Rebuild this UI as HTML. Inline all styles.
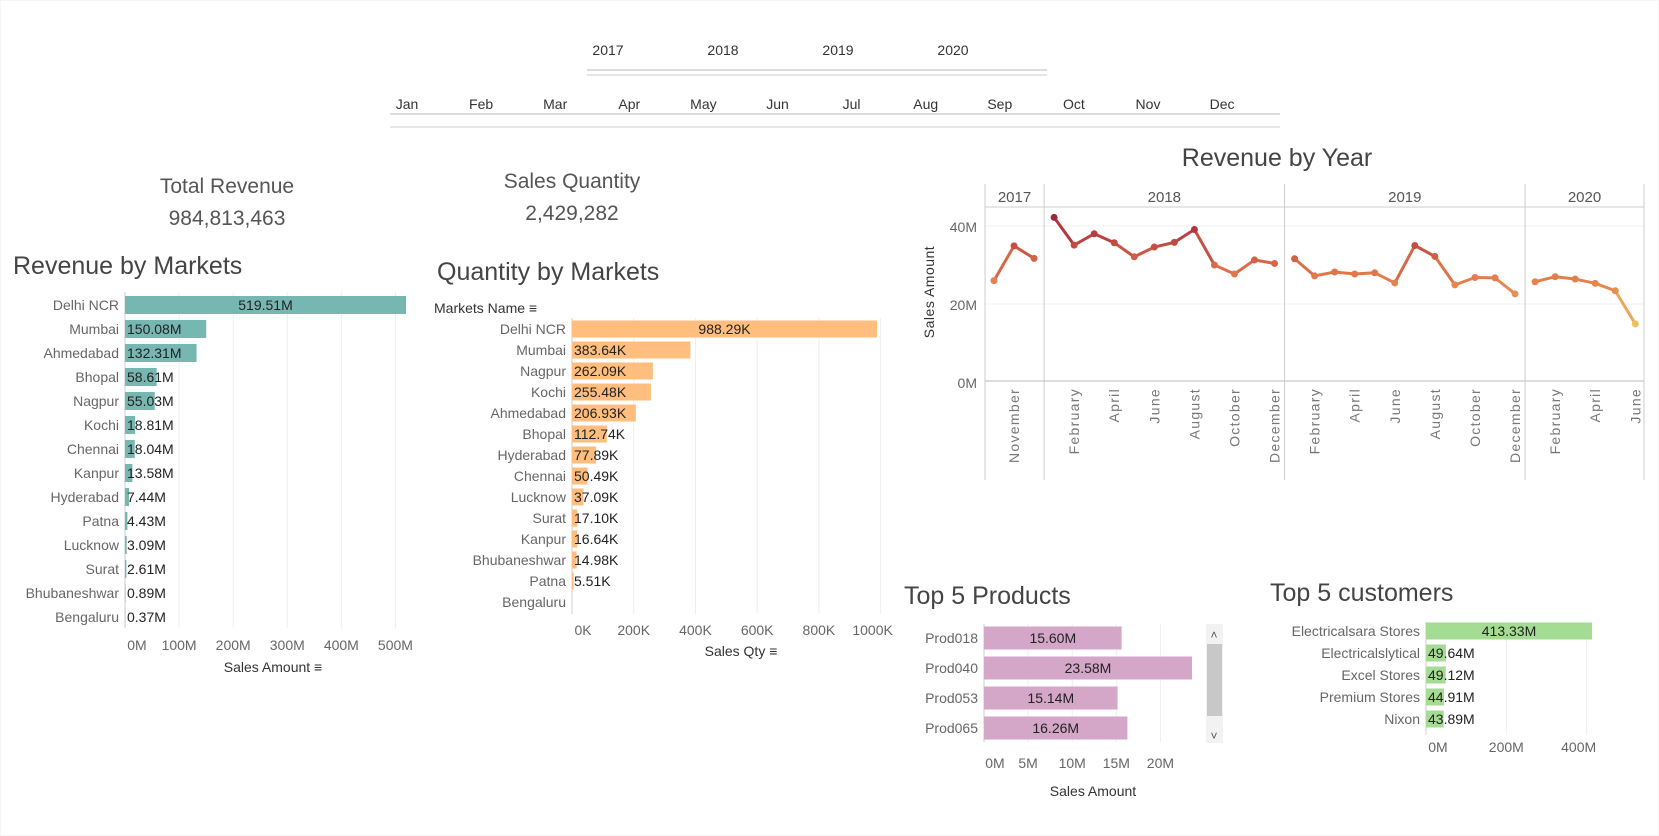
<!DOCTYPE html>
<html><head><meta charset="utf-8"><style>
body{margin:0;background:#fff;}
svg{display:block;font-family:"Liberation Sans",sans-serif;}
.lab{font-size:14px;fill:#666;}
.val{font-size:14px;fill:#222;}
.tick{font-size:14px;fill:#666;}
.ttl{font-size:25px;fill:#444;}
</style></head><body>
<svg id="dash" width="1659" height="836" viewBox="0 0 1659 836">
<rect x="0" y="0" width="1659" height="836" fill="#fff" stroke="#eee"/>
<g id="filters"></g>
<g>
<text x="227" y="193" text-anchor="middle" font-size="21" fill="#555">Total Revenue</text>
<text x="227" y="225" text-anchor="middle" font-size="21" fill="#555">984,813,463</text>
</g>
<g>
<text x="572" y="188" text-anchor="middle" font-size="21" fill="#555">Sales Quantity</text>
<text x="572" y="220" text-anchor="middle" font-size="21" fill="#555">2,429,282</text>
</g>
<text x="13" y="274" class="ttl">Revenue by Markets</text>
<text x="437" y="280" class="ttl">Quantity by Markets</text>
<text x="434" y="313" font-size="14" fill="#333">Markets Name ≡</text>
<text x="1277" y="166" text-anchor="middle" class="ttl">Revenue by Year</text>
<text x="904" y="604" class="ttl">Top 5 Products</text>
<text x="1270" y="601" class="ttl">Top 5 customers</text>
<g id="rev"></g>
<g id="qty"></g>
<g id="line"></g>
<g id="prod"></g>
<g id="cust"></g>
<g>
<rect x="1206" y="624" width="17" height="119" fill="#f2f2f2"/>
<rect x="1207" y="644" width="15" height="72" fill="#c8c8c8"/>
<text x="1214" y="639" text-anchor="middle" font-size="12" fill="#555">˄</text>
<text x="1214" y="740" text-anchor="middle" font-size="12" fill="#555">˅</text>
</g>
</svg>
<script>
const NS="http://www.w3.org/2000/svg";
const years=["2017","2018","2019","2020"];
const monthsShort=["Jan","Feb","Mar","Apr","May","Jun","Jul","Aug","Sep","Oct","Nov","Dec"];
const revMarkets=["Delhi NCR","Mumbai","Ahmedabad","Bhopal","Nagpur","Kochi","Chennai","Kanpur","Hyderabad","Patna","Lucknow","Surat","Bhubaneshwar","Bengaluru"];
const revValues=[519.51,150.08,132.31,58.61,55.03,18.81,18.04,13.58,7.44,4.43,3.09,2.61,0.89,0.37];
const revTicks=[0,100,200,300,400,500];
const qtyMarkets=["Delhi NCR","Mumbai","Nagpur","Kochi","Ahmedabad","Bhopal","Hyderabad","Chennai","Lucknow","Surat","Kanpur","Bhubaneshwar","Patna","Bengaluru"];
const qtyValues=[988.29,383.64,262.09,255.48,206.93,112.74,77.89,50.49,37.09,17.10,16.64,14.98,5.51,0];
const qtyTicks=[0,200,400,600,800,1000];
const lineMonths=["2017-10","2017-11","2017-12","2018-01","2018-02","2018-03","2018-04","2018-05","2018-06","2018-07","2018-08","2018-09","2018-10","2018-11","2018-12","2019-01","2019-02","2019-03","2019-04","2019-05","2019-06","2019-07","2019-08","2019-09","2019-10","2019-11","2019-12","2020-01","2020-02","2020-03","2020-04","2020-05","2020-06"];
const lineValues=[26.0,34.9,31.7,42.2,35.1,38.0,35.7,32.1,34.6,35.8,39.1,30.0,27.7,31.3,30.4,31.6,27.2,28.2,27.7,28.0,25.4,35.0,32.2,24.9,26.8,26.7,22.6,25.7,27.0,26.4,25.3,23.4,14.9];
const lineTicks=[0,20,40];
const prodNames=["Prod018","Prod040","Prod053","Prod065"];
const prodValues=[15.60,23.58,15.14,16.26];
const prodTicks=[0,5,10,15,20];
const custNames=["Electricalsara Stores","Electricalslytical","Excel Stores","Premium Stores","Nixon"];
const custValues=[413.33,49.64,49.12,44.91,43.89];
const custTicks=[0,200,400];

function mk(parent,tag,attrs,text){const e=document.createElementNS(NS,tag);for(const k in attrs)e.setAttribute(k,attrs[k]);if(text!==undefined)e.textContent=text;parent.appendChild(e);return e;}

const F=document.getElementById('filters');
years.forEach((y,i)=>{const t=mk(F,'text',{x:608+i*115,y:55,'text-anchor':'middle','font-size':14,fill:'#333'},y);

});
mk(F,'line',{x1:587,x2:1047,y1:70,y2:70,stroke:'#bbb'});
mk(F,'line',{x1:587,x2:1047,y1:75,y2:75,stroke:'#ccc'});
monthsShort.forEach((m,i)=>{const t=mk(F,'text',{x:407+i*74.1,y:109,'text-anchor':'middle','font-size':14,fill:'#333'},m);

});
mk(F,'line',{x1:390,x2:1280,y1:114,y2:114,stroke:'#bbb'});
mk(F,'line',{x1:390,x2:1280,y1:127,y2:127,stroke:'#ccc'});

function hbar(gid,cats,vals,ticks,o){
  const g=document.getElementById(gid);
  const xs=v=>o.x0+v*o.k;
  ticks.forEach(t=>{mk(g,'line',{x1:xs(t),x2:xs(t),y1:o.top,y2:o.bottom,stroke:'#eee'});
    const tl=mk(g,'text',{x:xs(t)+(o.tickShift?o.tickShift(t):0),y:o.tickY,'text-anchor':'middle',class:'tick'},t+o.unit);
    
    });
  mk(g,'line',{x1:o.x0,x2:o.x0,y1:o.top,y2:o.bottom,stroke:'#ccc'});
  const mx=Math.max(...vals);
  cats.forEach((c,i)=>{const y=o.y0+i*o.step;
    const l=mk(g,'text',{x:o.x0-6,y:y+5,'text-anchor':'end',class:'lab'},c);
    
    
    const r=mk(g,'rect',{x:o.x0,y:y-o.h/2,width:Math.max(0,vals[i]*o.k),height:o.h,fill:o.color});
    
    
    if(vals[i]>0){const center=o.center||vals[i]===mx;
      const vt=mk(g,'text',{x:center?o.x0+vals[i]*o.k/2:o.x0+2,y:y+5,'text-anchor':center?'middle':'start',class:'val'},vals[i].toFixed(2)+o.suffix);
      
      }
  });
  if(o.axisTitle){const a=mk(g,'text',{x:o.axisX,y:o.axisY,'text-anchor':'middle','font-size':14,fill:'#333'},o.axisTitle);
    
    }
}
hbar('rev',revMarkets,revValues,revTicks,{x0:125,k:281/519.51,y0:305,step:24,h:18,color:'#76b7b2',top:292,bottom:628,tickY:650,unit:'M',suffix:'M',axisTitle:'Sales Amount ≡',axisX:273,axisY:672,tickShift:t=>t===0?12:0});
hbar('qty',qtyMarkets,qtyValues,qtyTicks,{x0:572,k:305/988.29,y0:329,step:21,h:17,color:'#ffbe7d',top:318,bottom:614,tickY:635,unit:'K',suffix:'K',axisTitle:'Sales Qty ≡',axisX:741,axisY:656,tickShift:t=>t===0?11:(t===1000?-8:0)});
hbar('prod',prodNames,prodValues,prodTicks,{x0:984,k:208/23.58,y0:638,step:30,h:23,color:'#d4a6c8',top:624,bottom:742,tickY:768,unit:'M',suffix:'M',center:true,axisTitle:'Sales Amount',axisX:1093,axisY:796,tickShift:t=>t===0?11:0});
hbar('cust',custNames,custValues,custTicks,{x0:1426,k:166/413.33,y0:631,step:22,h:17,color:'#a5dc93',top:622,bottom:735,tickY:752,unit:'M',suffix:'M',tickShift:t=>t===0?12:(t===400?-8:0)});

(function(){
  const g=document.getElementById('line');
  const L=985,R=1644,T=184,HB=207,B=381,AB=480;
  const ys=v=>382-v*3.9;
  const xi=i=>994+i*20.04;
  mk(g,'line',{x1:L,x2:R,y1:HB,y2:HB,stroke:'#ccc'});
  mk(g,'line',{x1:L,x2:R,y1:B,y2:B,stroke:'#bbb'});
  lineTicks.forEach(t=>{if(t>0)mk(g,'line',{x1:L,x2:R,y1:ys(t),y2:ys(t),stroke:'#f0f0f0'});
    const tl=mk(g,'text',{x:977,y:ys(t)+6,'text-anchor':'end',class:'tick'},t+'M');
    
    });
  const yl=mk(g,'text',{x:0,y:0,'text-anchor':'middle','font-size':14,fill:'#333','letter-spacing':'0.5',transform:'translate(934,292) rotate(-90)'},'Sales Amount');
  
  
  years.forEach((y,yi)=>{const idx=lineMonths.map((m,i)=>m.startsWith(y)?i:-1).filter(i=>i>=0);
    const x0=yi===0?L:xi(idx[0])-10,x1=yi===years.length-1?R:xi(idx[idx.length-1])+10;
    mk(g,'line',{x1:x0,x2:x0,y1:T,y2:AB,stroke:'#ccc'});
    const h=mk(g,'text',{x:(x0+x1)/2,y:202,'text-anchor':'middle','font-size':15,fill:'#555'},y);
    
    });
  mk(g,'line',{x1:R,x2:R,y1:T,y2:AB,stroke:'#ccc'});
  const full=["January","February","March","April","May","June","July","August","September","October","November","December"];
  lineMonths.forEach((m,i)=>{const mo=+m.slice(5);
    if((m.startsWith('2017')&&mo===11)||(!m.startsWith('2017')&&mo%2===0)){
      const t=mk(g,'text',{x:0,y:0,'text-anchor':'end','font-size':14,fill:'#777','letter-spacing':'1.3',transform:`translate(${xi(i)+5},388) rotate(-90)`},full[mo-1]);
      
      }});
  function col(v){const st=[[14,[238,196,92]],[28,[226,118,74]],[43,[160,32,58]]];
    if(v<=st[0][0])return`rgb(${st[0][1]})`;
    for(let k=1;k<st.length;k++){if(v<=st[k][0]){const f=(v-st[k-1][0])/(st[k][0]-st[k-1][0]);
      return 'rgb('+st[k][1].map((c,j)=>Math.round(st[k-1][1][j]+(c-st[k-1][1][j])*f)).join(',')+')';}}
    return `rgb(${st[2][1]})`;}
  for(let i=0;i<lineMonths.length-1;i++){
    if(lineMonths[i].slice(0,4)!==lineMonths[i+1].slice(0,4))continue;
    const s=mk(g,'line',{x1:xi(i),y1:ys(lineValues[i]),x2:xi(i+1),y2:ys(lineValues[i+1]),stroke:col((lineValues[i]+lineValues[i+1])/2),'stroke-width':3,'stroke-linecap':'round'});
    
    }
  lineMonths.forEach((m,i)=>{const c=mk(g,'circle',{cx:xi(i),cy:ys(lineValues[i]),r:3.5,fill:col(lineValues[i])});
    
    });
})();
</script>
</body></html>
